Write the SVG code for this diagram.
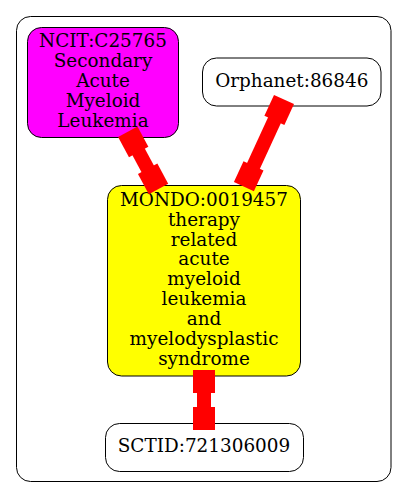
<svg xmlns="http://www.w3.org/2000/svg" width="408" height="499" viewBox="0 0 408 499">
<style>
.node{stroke:#000;stroke-width:1}
.t{font-family:"DejaVu Serif",serif;font-size:18.4px;text-anchor:middle;fill:#000}
.e{fill:#f00;stroke:none}
</style>
<rect width="408" height="499" fill="#fff"/>
<rect x="16.5" y="16.5" width="374.5" height="465" rx="14" fill="none" stroke="#000" stroke-width="1"/>
<g id="NCIT_C25765">
<rect class="node" x="27.5" y="27.5" width="151" height="110" rx="14" fill="#ff00ff"/>
<text class="t" x="103" y="46.7">NCIT:C25765</text>
<text class="t" x="103" y="66.7">Secondary</text>
<text class="t" x="103" y="86.7">Acute</text>
<text class="t" x="103" y="106.7">Myeloid</text>
<text class="t" x="103" y="126.7">Leukemia</text>
</g>
<g id="Orphanet_86846">
<rect class="node" x="202.5" y="58" width="178.5" height="48" rx="14" fill="#fff"/>
<text class="t" x="291.8" y="86.7">Orphanet:86846</text>
</g>
<g id="MONDO_0019457">
<rect class="node" x="107.5" y="185.5" width="193" height="190.5" rx="14" fill="#ffff00"/>
<text class="t" x="204" y="205.7">MONDO:0019457</text>
<text class="t" x="204" y="225.6">therapy</text>
<text class="t" x="204" y="245.5">related</text>
<text class="t" x="204" y="265.4">acute</text>
<text class="t" x="204" y="285.3">myeloid</text>
<text class="t" x="204" y="305.2">leukemia</text>
<text class="t" x="204" y="325.1">and</text>
<text class="t" x="204" y="345">myelodysplastic</text>
<text class="t" x="204" y="364.9">syndrome</text>
</g>
<g id="SCTID_721306009">
<rect class="node" x="105.5" y="423.5" width="198" height="48" rx="14" fill="#fff"/>
<text class="t" x="204" y="452.3">SCTID:721306009</text>
</g>
<g id="edges">
<g transform="translate(127.8,131.7) rotate(-28.2)">
<rect class="e" x="-11" y="0" width="22" height="23"/>
<rect class="e" x="-7" y="22" width="14" height="21"/>
<rect class="e" x="-11" y="42" width="22" height="23"/>
</g>
<g transform="translate(284,99.5) rotate(24.7)">
<rect class="e" x="-11" y="0" width="22" height="23"/>
<rect class="e" x="-7" y="22" width="14" height="52"/>
<rect class="e" x="-11" y="73" width="22" height="23"/>
</g>
<g transform="translate(204,370)">
<rect class="e" x="-11" y="0" width="22" height="23"/>
<rect class="e" x="-7" y="22" width="14" height="16"/>
<rect class="e" x="-11" y="37" width="22" height="23"/>
</g>
</g>
</svg>
